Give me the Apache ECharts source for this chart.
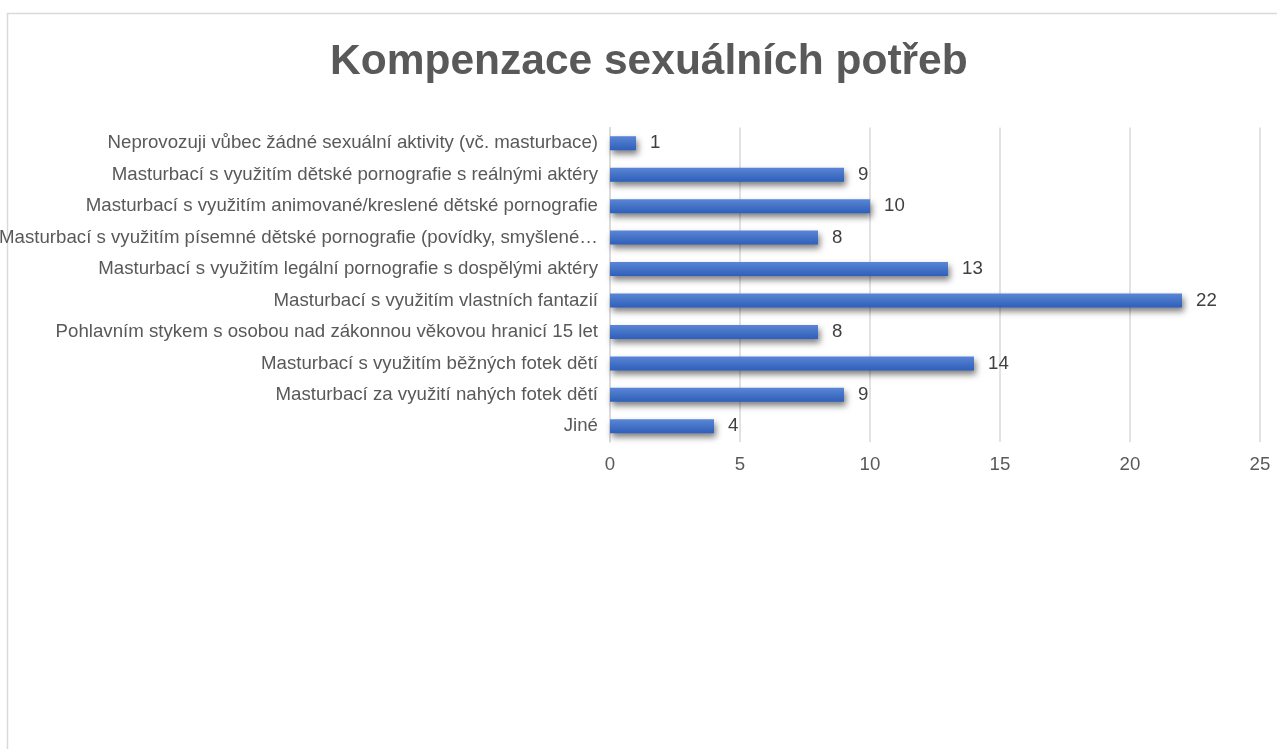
<!DOCTYPE html>
<html>
<head>
<meta charset="utf-8">
<script src="https://cdn.jsdelivr.net/npm/echarts@6/dist/echarts.min.js"></script>
<style>html,body{margin:0;padding:0;background:#fff;}#c{width:1277px;height:749px;}</style>
</head>
<body>
<div id="c"></div>
<script>
const categories = [
  "Neprovozuji vůbec žádné sexuální aktivity (vč. masturbace)",
  "Masturbací s využitím dětské pornografie s reálnými aktéry",
  "Masturbací s využitím animované/kreslené dětské pornografie",
  "Masturbací s využitím písemné dětské pornografie (povídky, smyšlené příběhy)",
  "Masturbací s využitím legální pornografie s dospělými aktéry",
  "Masturbací s využitím vlastních fantazií",
  "Pohlavním stykem s osobou nad zákonnou věkovou hranicí 15 let",
  "Masturbací s využitím běžných fotek dětí",
  "Masturbací za využití nahých fotek dětí",
  "Jiné"
];
const values = [1, 9, 10, 8, 13, 22, 8, 14, 9, 4];
const titleText = "Kompenzace sexuálních potřeb";

const FONT = 'Liberation Sans, Arial, sans-serif';
const LABEL_SIZE = 18.67;
const MAX_LABEL_W = 600;
const ctx = document.createElement('canvas').getContext('2d');
ctx.font = LABEL_SIZE + 'px ' + FONT;
function fitLabel(s) {
  if (ctx.measureText(s).width <= MAX_LABEL_W) return s;
  let t = s;
  while (t.length > 1 && ctx.measureText(t.trimEnd() + '…').width > MAX_LABEL_W) t = t.slice(0, -1);
  return t.trimEnd() + '…';
}

const chart = echarts.init(document.getElementById('c'));
chart.setOption({
  animation: false,
  backgroundColor: '#fff',
  graphic: [{
    type: 'rect',
    shape: {x: 7.5, y: 13.5, width: 1300, height: 800},
    style: {fill: 'none', stroke: '#d9d9d9', lineWidth: 1.5},
    silent: true
  }],
  title: {
    text: titleText,
    left: 325,
    top: 36,
    textStyle: {fontFamily: FONT, fontSize: 42.5, fontWeight: 'bold', color: '#595959'}
  },
  grid: {left: 610, right: 17, top: 127.5, height: 314.5, containLabel: false, outerBoundsMode: 'none'},
  xAxis: {
    type: 'value', min: 0, max: 25, interval: 5,
    axisLine: {show: false}, axisTick: {show: false},
    splitLine: {lineStyle: {color: '#d9d9d9', width: 1.5}},
    axisLabel: {margin: 13, fontFamily: FONT, fontSize: LABEL_SIZE, color: '#595959'}
  },
  yAxis: {
    type: 'category', data: categories, inverse: true,
    axisLine: {show: true, lineStyle: {color: '#d9d9d9', width: 1.5}}, axisTick: {show: false},
    axisLabel: {margin: 12, formatter: fitLabel, fontFamily: FONT, fontSize: LABEL_SIZE, color: '#595959'}
  },
  series: [{
    type: 'bar', data: values, barWidth: 14,
    itemStyle: {
      color: new echarts.graphic.LinearGradient(0, 0, 0, 1, [
        {offset: 0, color: '#5a86d8'},
        {offset: 0.5, color: '#4472c4'},
        {offset: 1, color: '#2f5fbf'}
      ]),
      shadowColor: 'rgba(0,0,0,0.5)', shadowBlur: 6, shadowOffsetX: 2, shadowOffsetY: 4
    },
    label: {show: true, position: 'right', distance: 14, fontFamily: FONT, fontSize: LABEL_SIZE, color: '#404040'}
  }]
});
</script>
</body>
</html>
